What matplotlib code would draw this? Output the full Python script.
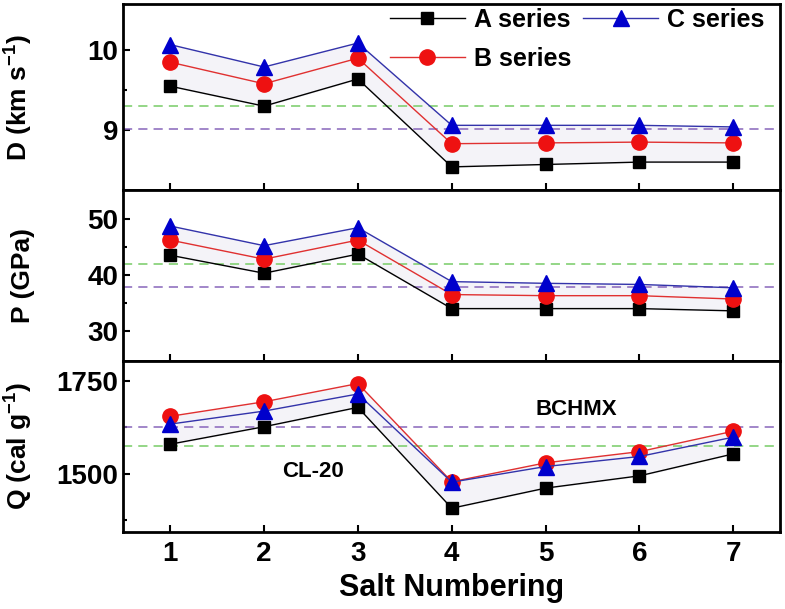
import numpy as np
import matplotlib
matplotlib.use("Agg")
import matplotlib.pyplot as plt
from matplotlib.ticker import FixedLocator

plt.rcParams['font.family'] = ['Liberation Sans', 'DejaVu Sans']
plt.rcParams['font.weight'] = 'bold'
plt.rcParams['mathtext.fontset'] = 'custom'
plt.rcParams['mathtext.rm'] = 'Liberation Sans:bold'
plt.rcParams['mathtext.bf'] = 'Liberation Sans:bold'
plt.rcParams['mathtext.default'] = 'bf'

salts = [1, 2, 3, 4, 5, 6, 7]

# detonation velocity D (km/s)
d_a = [9.55, 9.30, 9.64, 8.54, 8.57, 8.60, 8.60]
d_b = [9.85, 9.58, 9.90, 8.83, 8.84, 8.85, 8.84]
d_c = [10.07, 9.79, 10.09, 9.06, 9.06, 9.06, 9.04]
d_cl20 = 9.30
d_bchmx = 9.01

# detonation pressure P (GPa)
p_a = [43.5, 40.3, 43.7, 34.0, 34.0, 34.0, 33.6]
p_b = [46.2, 42.8, 46.2, 36.5, 36.3, 36.3, 35.7]
p_c = [48.7, 45.2, 48.4, 38.8, 38.5, 38.3, 37.7]
p_cl20 = 42.0
p_bchmx = 37.8

# heat of detonation Q (cal/g)
q_a = [1580, 1627, 1679, 1408, 1462, 1495, 1554]
q_b = [1655, 1694, 1743, 1479, 1530, 1560, 1615]
q_c = [1634, 1669, 1715, 1478, 1520, 1547, 1599]
q_cl20 = 1574
q_bchmx = 1625

fig, axes = plt.subplots(3, 1, figsize=(7.85, 6.09), dpi=100, sharex=True,
                         gridspec_kw={'height_ratios': [186, 171, 171], 'hspace': 0})
fig.subplots_adjust(left=0.157, right=0.994, top=0.993, bottom=0.127)

panels = [
    (d_a, d_b, d_c, d_cl20, d_bchmx, 'D (km s$^{-1}$)', (8.25, 10.575), [9, 10], [9.5]),
    (p_a, p_b, p_c, p_cl20, p_bchmx, 'P (GPa)', (24.7, 55.1), [30, 40, 50], [35, 45]),
    (q_a, q_b, q_c, q_cl20, q_bchmx, 'Q (cal g$^{-1}$)', (1345, 1804), [1500, 1750], [1375, 1625]),
]

for ax, (a, b, c, cl20, bchmx, lab, ylim, major, minor) in zip(axes, panels):
    hi = np.maximum(b, c)
    ax.fill_between(salts, a, hi, color='#f4f3f8', zorder=1)
    ax.axhline(cl20, color='#77cc66', ls=(0, (6, 4)), lw=1.1, zorder=2)
    ax.axhline(bchmx, color='#8866bb', ls=(0, (6, 4)), lw=1.1, zorder=2)
    ax.plot(salts, a, color='black', lw=1, marker='s', ms=9, mfc='black', mec='black',
            label='A series', zorder=3)
    ax.plot(salts, b, color='#e03030', lw=1, marker='o', ms=11, mfc='#ee1111', mec='#ee1111',
            label='B series', zorder=4)
    ax.plot(salts, c, color='#3333aa', lw=1, marker='^', ms=11, mfc='#0000cc', mec='#0000cc',
            label='C series', zorder=5)
    ax.set_ylim(*ylim)
    ax.set_xlim(0.5, 7.5)
    ax.yaxis.set_major_locator(FixedLocator(major))
    ax.yaxis.set_minor_locator(FixedLocator(minor))
    ax.set_ylabel(lab, fontsize=19, fontweight='bold')
    ax.yaxis.set_label_coords(-0.135, 0.5)
    ax.tick_params(axis='both', which='both', direction='in', width=1.5, labelsize=20)
    ax.tick_params(axis='both', which='major', length=5)
    ax.tick_params(axis='both', which='minor', length=3)
    ax.tick_params(axis='x', pad=7)
    for sp in ax.spines.values():
        sp.set_linewidth(2)

axes[2].set_xticks(salts)
axes[2].set_xlabel('Salt Numbering', fontsize=22, fontweight='bold', labelpad=4)

axes[2].text(5.33, 1674, 'BCHMX', fontsize=16, fontweight='bold', ha='center', va='center')
axes[2].text(2.52, 1508, 'CL-20', fontsize=16, fontweight='bold', ha='center', va='center')

handles, labels = axes[0].get_legend_handles_labels()
axes[0].legend(handles, labels, ncol=2, loc='upper left', bbox_to_anchor=(0.40, 1.0),
               frameon=False, fontsize=18, handlelength=3.0, handletextpad=0.35,
               columnspacing=0.5, labelspacing=0.6, borderpad=0.15, borderaxespad=0.0)

fig.savefig('out.png', dpi=100)
